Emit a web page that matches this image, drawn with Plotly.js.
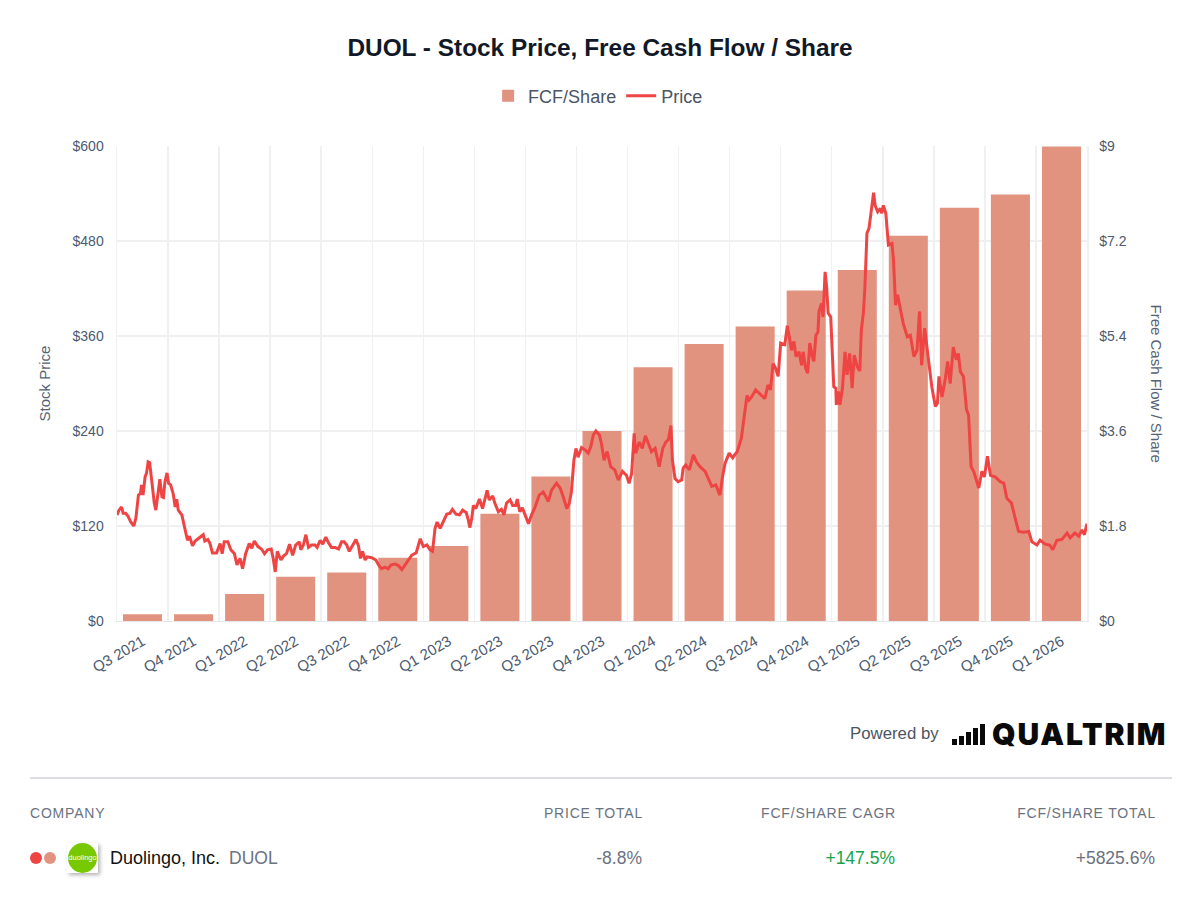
<!DOCTYPE html>
<html>
<head>
<meta charset="utf-8">
<title>DUOL - Stock Price, Free Cash Flow / Share</title>
<script src="https://cdn.plot.ly/plotly-3.0.1.min.js"></script>
<style>
  html, body { margin: 0; padding: 0; background: #fff; }
  body { width: 1200px; height: 900px; position: relative; overflow: hidden; font-family: "Liberation Sans", Arial, sans-serif; }
  #chart { position: absolute; left: 0; top: 0; width: 1200px; height: 710px; }
  .abs { position: absolute; white-space: nowrap; }
  .head { top: 805px; font-size: 14px; line-height: 16px; letter-spacing: 0.8px; color: #6b7280; }
  .val { top: 848px; font-size: 17.5px; line-height: 20px; color: #6b7280; }
  .right { text-align: right; }
</style>
</head>
<body>
<div id="chart"></div>

<div class="abs" style="left:850px;top:725px;font-size:16.8px;line-height:18px;color:#4b5563">Powered by</div>
<svg class="abs" style="left:952px;top:724px" width="34" height="22">
  <rect x="0" y="15" width="5" height="6" fill="#0a0a0a"/>
  <rect x="7" y="12" width="5" height="9" fill="#0a0a0a"/>
  <rect x="14" y="8" width="5" height="13" fill="#0a0a0a"/>
  <rect x="21" y="4" width="5" height="17" fill="#0a0a0a"/>
  <rect x="28" y="0" width="5" height="21" fill="#0a0a0a"/>
</svg>
<div class="abs" style="left:992px;top:717px;font-family:Inter,sans-serif;font-weight:900;font-size:30px;line-height:34px;letter-spacing:1.8px;color:#0a0a0a">QUALTRIM</div>

<div class="abs" style="left:30px;top:777px;width:1142px;height:2px;background:#dcdde0"></div>

<div class="abs head" style="left:30px">COMPANY</div>
<div class="abs head right" style="right:557px">PRICE TOTAL</div>
<div class="abs head right" style="right:304px">FCF/SHARE CAGR</div>
<div class="abs head right" style="right:44px">FCF/SHARE TOTAL</div>

<div class="abs" style="left:30px;top:852px;width:12px;height:12px;border-radius:50%;background:#ef4444"></div>
<div class="abs" style="left:44px;top:852px;width:12px;height:12px;border-radius:50%;background:#e29380"></div>
<div class="abs" style="left:67px;top:843px;width:31px;height:30px;box-shadow:2px 2px 4px rgba(0,0,0,.3);background:#fff"></div>
<div class="abs" style="left:68px;top:843px;width:29px;height:30px;border-radius:50%;background:#78c800;color:#fff;font-size:7.5px;line-height:30px;text-align:center">duolingo</div>
<div class="abs val" style="left:110px;color:#111;font-size:18px">Duolingo, Inc.</div>
<div class="abs val" style="left:229px">DUOL</div>
<div class="abs val right" style="right:558px">-8.8%</div>
<div class="abs val right" style="right:305px;color:#16a34a">+147.5%</div>
<div class="abs val right" style="right:45px">+5825.6%</div>

<script>
// quarters and free cash flow per share, one bar per quarter
const quarters = ['Q3 2021','Q4 2021','Q1 2022','Q2 2022','Q3 2022','Q4 2022','Q1 2023','Q2 2023','Q3 2023','Q4 2023',
  'Q1 2024','Q2 2024','Q3 2024','Q4 2024','Q1 2025','Q2 2025','Q3 2025','Q4 2025','Q1 2026'];
const fcfPerShare = [0.13,0.13,0.51,0.84,0.92,1.20,1.42,2.03,2.74,3.60,4.81,5.25,5.58,6.26,6.65,7.30,7.83,8.08,8.99];

// stock price. priceTime = quarters elapsed since the start of Q3 2021
const priceTime = [0,.04,.09,.12,.17,.22,.27,.33,.37,.42,.46,.48,.51,.55,.58,.61,.64,.67,.70,.73,.76,.80,.84,.88,.91,.94,.98,
  1.01,1.05,1.10,1.14,1.17,1.20,1.27,1.31,1.35,1.38,1.42,1.45,1.48,1.53,1.59,1.65,1.69,1.72,1.78,1.82,1.87,1.95,
  2.02,2.06,2.10,2.17,2.23,2.30,2.35,2.41,2.46,2.52,2.59,2.64,2.69,2.76,2.83,2.89,2.95,
  3.02,3.06,3.10,3.14,3.21,3.26,3.32,3.38,3.44,3.50,3.57,3.60,3.65,3.70,3.75,3.81,3.88,3.92,3.98,
  4.03,4.09,4.14,4.20,4.27,4.34,4.40,4.45,4.50,4.55,4.62,4.68,4.73,4.77,4.81,4.86,4.90,4.99,
  5.07,5.12,5.18,5.25,5.31,5.37,5.45,5.51,5.58,5.64,5.71,5.77,5.86,5.90,5.94,
  6.00,6.07,6.13,6.18,6.23,6.27,6.33,6.39,6.46,6.52,6.57,6.64,6.71,6.77,6.84,6.88,6.91,6.95,6.98,
  7.03,7.10,7.16,7.21,7.25,7.29,7.36,7.40,7.47,7.53,7.58,7.63,7.70,7.75,7.81,7.84,7.89,7.94,7.99,
  8.06,8.12,8.19,8.27,8.35,8.45,8.51,8.61,8.68,8.74,8.81,8.86,8.90,8.95,8.99,
  9.03,9.10,9.17,9.23,9.28,9.33,9.38,9.45,9.49,9.54,9.60,9.67,9.75,9.82,9.90,9.98,
  10.03,10.08,10.13,10.16,10.23,10.29,10.35,10.42,10.47,10.54,10.62,10.69,10.75,10.80,10.85,10.88,10.93,10.99,
  11.06,11.09,11.14,11.21,11.29,11.35,11.42,11.52,11.65,11.73,11.81,11.86,11.91,11.99,
  12.06,12.10,12.15,12.23,12.30,12.34,12.38,12.43,12.51,12.58,12.64,12.69,12.75,12.80,12.85,12.89,12.95,
  13.00,13.08,13.13,13.18,13.21,13.26,13.30,13.36,13.41,13.44,13.49,13.53,13.57,13.62,13.65,13.69,13.73,13.75,13.80,13.83,13.87,13.90,13.93,13.98,
  14.01,14.04,14.08,14.09,14.13,14.16,14.21,14.26,14.30,14.35,14.40,14.44,14.50,14.55,14.58,14.62,14.65,14.69,14.73,14.78,14.82,14.85,14.90,14.95,14.98,
  15.01,15.06,15.11,15.18,15.21,15.25,15.29,15.34,15.40,15.48,15.54,15.61,15.67,15.72,15.76,15.82,15.87,15.93,15.96,
  16.03,16.07,16.10,16.16,16.22,16.27,16.32,16.38,16.44,16.48,16.52,16.58,16.64,16.68,16.73,16.78,16.88,16.94,16.99,
  17.05,17.11,17.20,17.30,17.37,17.43,17.52,17.60,17.66,17.76,17.86,17.92,
  18.02,18.08,18.18,18.27,18.33,18.41,18.51,18.61,18.67,18.76,18.84,18.90,18.95,19];
const priceValue = [134,140,144,136,136,132,125,120,130,159,161,172,159,182,187,201,200,184,163,149,140,161,179,157,156,176,187,
  174,172,161,144,154,140,134,121,111,102,107,101,95,101,104,107,109,101,103,98,86,86,
  98,85,100,100,90,85,71,79,66,85,98,92,101,94,91,85,90,
  91,79,62,88,77,82,85,97,83,96,100,90,96,109,93,96,96,93,102,
  97,106,99,93,93,91,100,100,96,88,97,103,95,79,88,77,81,80,
  77,71,66,68,66,71,72,70,65,71,77,83,86,96,104,
  94,96,90,88,117,125,117,125,135,136,141,135,134,140,137,128,118,130,146,
  142,154,142,153,165,153,158,149,138,141,134,149,153,146,146,154,138,143,134,
  123,134,144,159,163,151,165,174,168,157,142,149,163,203,218,
  207,219,216,212,220,235,240,235,224,203,214,195,191,178,189,184,
  174,186,237,212,226,218,234,222,214,218,195,218,226,229,247,203,180,176,
  178,193,197,191,210,201,195,189,170,172,159,182,199,212,
  206,210,214,231,269,285,279,283,292,288,285,281,298,292,325,321,309,
  351,349,373,355,342,353,334,340,323,340,319,313,351,334,328,361,365,391,401,384,441,422,389,384,
  338,296,294,273,290,273,294,340,311,338,294,336,321,316,368,389,422,490,496,521,541,525,517,521,515,
  525,515,475,477,456,399,412,395,376,359,361,334,342,391,323,370,344,317,296,
  271,275,309,283,304,328,300,346,330,338,315,309,267,260,195,189,168,189,182,
  208,184,182,176,174,155,149,128,113,112,113,100,
  96,102,97,96,90,102,103,111,105,111,107,115,109,123];

const priceTicks = [0,120,240,360,480,600];
const priceTickText = ['$0','$120','$240','$360','$480','$600'];
const fcfTicks = [0,1.8,3.6,5.4,7.2,9];
const fcfTickText = ['$0','$1.8','$3.6','$5.4','$7.2','$9'];

const barColor = '#e29380';
const lineColor = '#ef4444';
const gridColor = '#eff0f2';
const fontFamily = '"Liberation Sans", Arial, sans-serif';
const tickFont = { family: fontFamily, size: 14, color: '#4b5a70' };
const axisTitleFont = { family: fontFamily, size: 15, color: '#556274' };

const barTrace = {
  type: 'bar',
  name: 'FCF/Share',
  x: quarters.map((q, i) => i + 0.5),
  y: fcfPerShare,
  yaxis: 'y',
  marker: { color: barColor },
  hoverinfo: 'skip'
};

const lineTrace = {
  type: 'scatter',
  mode: 'lines',
  name: 'Price',
  x: priceTime,
  y: priceValue,
  yaxis: 'y2',
  line: { color: lineColor, width: 3 },
  hoverinfo: 'skip'
};

const layout = {
  width: 1200,
  height: 710,
  margin: { l: 117, r: 113, t: 146, b: 89 },
  paper_bgcolor: '#fff',
  plot_bgcolor: '#fff',
  bargap: 0.235,
  showlegend: true,
  title: {
    text: '<b>DUOL - Stock Price, Free Cash Flow / Share</b>',
    font: { family: fontFamily, size: 24.4, color: '#111827' },
    x: 0.5, xanchor: 'center', y: 1 - 47 / 710, yanchor: 'middle'
  },
  legend: {
    orientation: 'h',
    x: 0.496, xanchor: 'center', y: 1 - 96 / 710, yanchor: 'middle',
    yref: 'container',
    font: { family: fontFamily, size: 18, color: '#4b5563' }
  },
  xaxis: {
    range: [0, 19],
    tickmode: 'array',
    tickvals: quarters.map((q, i) => i + 0.5),
    ticktext: quarters,
    tickangle: -30,
    tickfont: { family: fontFamily, size: 15, color: '#4b5a70' },
    ticklabelstandoff: 5,
    showgrid: false,
    showline: true,
    linecolor: '#e5e7eb',
    zeroline: false,
    ticks: '',
    minor: { tickmode: 'linear', tick0: 0, dtick: 1, showgrid: true, gridcolor: gridColor, gridwidth: 1.5, ticks: '' }
  },
  yaxis: {
    side: 'right',
    range: [0, 9],
    tickmode: 'array',
    tickvals: fcfTicks,
    ticktext: fcfTickText,
    tickfont: tickFont,
    ticklabelstandoff: 8,
    gridcolor: gridColor,
    gridwidth: 1.5,
    showline: true,
    linecolor: gridColor,
    linewidth: 1.5,
    zeroline: false,
    ticks: ''
  },
  yaxis2: {
    side: 'left',
    overlaying: 'y',
    range: [0, 600],
    tickmode: 'array',
    tickvals: priceTicks,
    ticktext: priceTickText,
    tickfont: tickFont,
    ticklabelstandoff: 9,
    showgrid: false,
    showline: true,
    linecolor: gridColor,
    linewidth: 1.5,
    zeroline: false,
    ticks: '',
    title: { text: 'Stock Price', font: axisTitleFont, standoff: 18 }
  },
  annotations: [{
    xref: 'paper', yref: 'paper',
    x: 1 + 69 / 970, y: 0.5,
    xanchor: 'center', yanchor: 'middle',
    text: 'Free Cash Flow / Share',
    textangle: 90,
    showarrow: false,
    font: axisTitleFont
  }]
};

Plotly.newPlot('chart', [barTrace, lineTrace], layout, { displayModeBar: false, staticPlot: true });
</script>
</body>
</html>
